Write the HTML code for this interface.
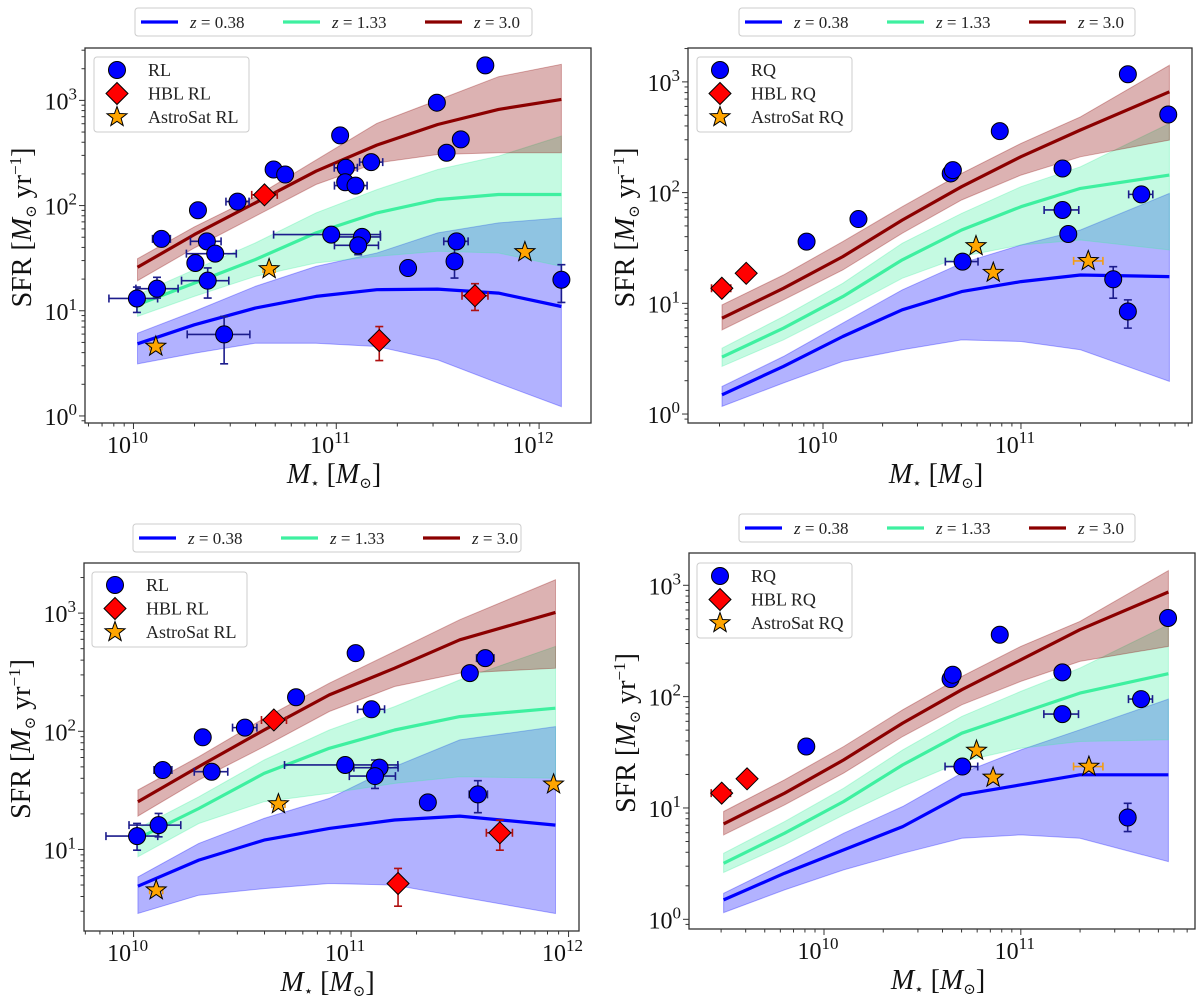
<!DOCTYPE html>
<html><head><meta charset="utf-8">
<style>
body{margin:0;background:#fff;}
svg{display:block;font-family:"Liberation Serif","DejaVu Serif",serif;}
</style></head>
<body>
<svg id="fig" width="1200" height="1003" viewBox="0 0 1200 1003" xmlns="http://www.w3.org/2000/svg"></svg>
<script>
// ---------- Data (log10 values) ----------
const p1ModelMass = [10.02,10.3,10.6,10.9,11.2,11.5,11.8,12.11];
const p1Z3Line = [1.413,1.724,2.025,2.327,2.575,2.771,2.914,3.009];
const p1Z3Up   = [1.495,1.797,2.083,2.432,2.781,3.003,3.225,3.343];
const p1Z3Lo   = [1.286,1.597,1.898,2.2,2.406,2.486,2.502,2.502];
const p1Z13Line= [1.057,1.263,1.486,1.740,1.930,2.057,2.105,2.105];
const p1Z13Up  = [1.152,1.390,1.644,1.930,2.152,2.343,2.470,2.660];
const p1Z13Lo  = [0.946,1.137,1.327,1.454,1.517,1.565,1.549,1.422];
const p1Z04Line= [0.686,0.867,1.025,1.137,1.2,1.206,1.168,1.041];
const p1Z04Up  = [0.787,0.994,1.232,1.422,1.549,1.740,1.835,1.883];
const p1Z04Lo  = [0.495,0.597,0.692,0.692,0.660,0.533,0.311,0.089];
const p1CircMass = [11.735,11.496,11.019,11.614,11.544,11.172,11.047,10.691,10.748,11.044,11.095,10.513,10.318,10.138,10.975,11.127,11.108,10.362,10.403,11.593,11.583,11.354,10.305,10.366,10.116,10.017,10.447,12.110];
const p1CircSfr  = [3.333,2.978,2.667,2.629,2.502,2.413,2.359,2.343,2.295,2.222,2.190,2.038,1.956,1.683,1.724,1.702,1.622,1.660,1.543,1.660,1.470,1.406,1.454,1.286,1.210,1.117,0.775,1.295];
const p1CircErr = [[0,0,0,0],[0,0,0,0],[0,0,0,0],[0,0,0,0],[0,0,0,0],[0.057,0.057,0,0],[0.057,0.057,0,0],[0,0,0,0],[0,0,0,0],[0,0,0,0],[0.104,0.057,0,0],[0.057,0.057,0,0],[0,0,0,0],[0.044,0.044,0,0],[0.284,0.242,0,0],[0.136,0.091,0,0],[0.117,0.1,0.089,0.086],[0.081,0.07,0,0],[0.142,0.104,0,0],[0.063,0.057,0.05,0.05],[0,0,0.159,0.159],[0,0,0,0],[0,0,0,0],[0.129,0.104,0.165,0.121],[0.104,0.104,0.089,0.108],[0.138,0.102,0.133,0.108],[0.182,0.127,0.279,0.171],[0,0,0.216,0.143]];
const p1DiaMass = [10.646,11.212,11.684];
const p1DiaSfr  = [2.102,0.717,1.143];
const p1DiaErr  = [[0.063,0.063,0,0],[0,0,0.19,0.133],[0.064,0.064,0.14,0.114]];
const p1StarMass = [10.110,10.669,11.930];
const p1StarSfr  = [0.660,1.397,1.559];
const p1StarErr  = [[0.03,0.03,0,0],[0.03,0.03,0,0],[0,0,0,0]];

const p2ModelMass = [9.49,9.8,10.1,10.4,10.7,11.0,11.3,11.75];
const p2Z3Line = [0.866,1.136,1.422,1.752,2.053,2.324,2.565,2.910];
const p2Z3Up   = [0.986,1.256,1.557,1.873,2.173,2.444,2.684,3.150];
const p2Z3Lo   = [0.760,1.031,1.301,1.632,1.933,2.158,2.323,2.474];
const p2Z13Line= [0.514,0.775,1.061,1.392,1.662,1.873,2.038,2.158];
const p2Z13Up  = [0.595,0.881,1.181,1.542,1.812,2.053,2.233,2.624];
const p2Z13Lo  = [0.430,0.670,0.941,1.226,1.422,1.527,1.572,1.482];
const p2Z04Line= [0.174,0.430,0.700,0.941,1.106,1.196,1.256,1.241];
const p2Z04Up  = [0.249,0.520,0.821,1.121,1.362,1.527,1.662,1.993];
const p2Z04Lo  = [0.069,0.280,0.475,0.580,0.670,0.655,0.580,0.295];
const p2CircMass = [11.540,11.744,10.893,10.645,10.656,10.179,9.917,11.210,11.210,11.239,11.608,10.705,11.466,11.540];
const p2CircSfr  = [3.069,2.705,2.555,2.173,2.203,1.761,1.557,2.218,1.843,1.626,1.984,1.377,1.217,0.926];
const p2CircErr  = [[0,0,0,0],[0,0,0,0],[0,0,0,0],[0,0,0,0],[0,0,0,0],[0,0,0,0],[0,0,0,0],[0,0,0,0],[0.093,0.082,0,0],[0,0,0,0],[0.064,0.058,0,0],[0.087,0.078,0,0],[0,0,0.171,0.114],[0,0,0.15,0.105]];
const p2DiaMass = [9.489,9.612];
const p2DiaSfr  = [1.136,1.271];
const p2DiaErr  = [[0.052,0.045,0,0],[0,0,0,0]];
const p2StarMass = [10.773,10.860,11.340];
const p2StarSfr  = [1.518,1.277,1.383];
const p2StarErr  = [[0,0,0,0],[0,0,0,0],[0.074,0.074,0,0]];

const p3ModelMass = [10.02,10.3,10.6,10.9,11.2,11.5,11.94];
const p3Z3Line = [1.404,1.701,2.011,2.308,2.534,2.774,3.006];
const p3Z3Up   = [1.503,1.785,2.110,2.407,2.675,2.944,3.282];
const p3Z3Lo   = [1.282,1.588,1.870,2.167,2.379,2.492,2.534];
const p3Z13Line= [1.093,1.347,1.644,1.856,2.011,2.124,2.195];
const p3Z13Up  = [1.178,1.446,1.757,2.011,2.209,2.435,2.718];
const p3Z13Lo  = [0.938,1.220,1.404,1.475,1.559,1.616,1.602];
const p3Z04Line= [0.689,0.910,1.079,1.178,1.249,1.282,1.206];
const p3Z04Up  = [0.768,1.051,1.263,1.432,1.701,1.927,2.040];
const p3Z04Lo  = [0.458,0.613,0.669,0.712,0.698,0.599,0.458];
const p3CircMass = [11.021,11.617,11.546,10.747,11.094,10.512,10.318,10.134,10.359,10.973,11.131,11.110,11.353,11.583,10.115,10.016];
const p3CircSfr  = [2.661,2.619,2.492,2.288,2.186,2.031,1.949,1.672,1.658,1.715,1.692,1.621,1.398,1.466,1.206,1.113];
const p3CircErr  = [[0,0,0,0],[0.04,0.04,0,0],[0,0,0,0],[0,0,0,0],[0.064,0.06,0.03,0.03],[0.057,0.055,0,0],[0,0,0,0],[0.04,0.042,0,0],[0.08,0.074,0,0],[0.279,0.242,0,0],[0.118,0.085,0.03,0.03],[0.118,0.094,0.105,0.136],[0,0,0.02,0.02],[0.04,0.044,0.155,0.116],[0.136,0.102,0.099,0.099],[0.143,0.095,0.119,0.107]];
const p3DiaMass = [10.645,11.216,11.684];
const p3DiaSfr  = [2.096,0.712,1.141];
const p3DiaErr  = [[0.057,0.058,0,0],[0,0,0.192,0.127],[0.062,0.058,0.147,0.107]];
const p3StarMass = [10.104,10.666,11.931];
const p3StarSfr  = [0.655,1.384,1.551];
const p3StarErr  = [[0.03,0.03,0,0],[0.03,0.03,0,0],[0,0,0,0]];

const p4ModelMass = [9.49,9.8,10.1,10.4,10.7,11.0,11.3,11.75];
const p4Z3Line = [0.857,1.133,1.432,1.762,2.062,2.331,2.601,2.940];
const p4Z3Up   = [0.968,1.253,1.552,1.882,2.182,2.451,2.676,3.132];
const p4Z3Lo   = [0.758,1.028,1.313,1.642,1.927,2.137,2.316,2.451];
const p4Z13Line= [0.503,0.773,1.058,1.387,1.672,1.852,2.032,2.206];
const p4Z13Up  = [0.593,0.878,1.178,1.522,1.822,2.047,2.256,2.646];
const p4Z13Lo  = [0.420,0.668,0.938,1.193,1.417,1.537,1.597,1.612];
const p4Z04Line= [0.174,0.414,0.623,0.833,1.118,1.208,1.298,1.298];
const p4Z04Up  = [0.234,0.503,0.773,1.013,1.313,1.522,1.702,1.978];
const p4Z04Lo  = [0.060,0.264,0.444,0.593,0.728,0.758,0.728,0.518];
const p4CircMass = [11.748,10.893,10.643,10.654,11.211,9.910,11.211,11.611,10.703,11.543];
const p4CircSfr  = [2.706,2.556,2.158,2.197,2.218,1.552,1.843,1.978,1.372,0.914];
const p4CircErr  = [[0,0,0,0],[0,0,0,0],[0,0,0,0],[0,0,0,0],[0,0,0,0],[0,0,0,0],[0.094,0.082,0,0],[0.064,0.058,0,0],[0.088,0.078,0,0],[0,0,0.126,0.128]];
const p4DiaMass = [9.480,9.609];
const p4DiaSfr  = [1.133,1.262];
const p4DiaErr  = [[0.053,0.045,0,0],[0,0,0,0]];
const p4StarMass = [10.775,10.859,11.346];
const p4StarSfr  = [1.516,1.274,1.372];
const p4StarErr  = [[0,0,0,0],[0,0,0,0],[0.078,0.071,0,0]];

const zLabels = ["0.38","1.33","3.0"];
const xTickExps = [10,11,12];
const yTickExps = [0,1,2,3];

// ---------- Rendering ----------
const NS="http://www.w3.org/2000/svg";
const svg=document.getElementById('fig');
function mk(tag,attrs,parent){const e=document.createElementNS(NS,tag);for(const k in attrs)e.setAttribute(k,attrs[k]);(parent||svg).appendChild(e);return e;}

const COL={blue:'#0000ff',green:'#3ef0a0',red:'#8b0000'};

function panel(cfg){
  const g=mk('g',{});
  
  
  const [L,T,R,B]=cfg.box;
  const sx=v=>L+(v-cfg.xr[0])/(cfg.xr[1]-cfg.xr[0])*(R-L);
  const sy=v=>B-(v-cfg.yr[0])/(cfg.yr[1]-cfg.yr[0])*(B-T);
  const clipId='clip'+cfg.name;
  const defs=mk('defs',{},g);
  const cp=mk('clipPath',{id:clipId},defs);
  mk('rect',{x:L,y:T,width:R-L,height:B-T},cp);
  const plot=mk('g',{'clip-path':'url(#'+clipId+')'},g);
  function band(up,lo,fill,op,nm){
    let d='';
    cfg.mass.forEach((m,i)=>{d+=(i?'L':'M')+sx(m).toFixed(1)+','+sy(up[i]).toFixed(1);});
    for(let i=cfg.mass.length-1;i>=0;i--)d+='L'+sx(cfg.mass[i]).toFixed(1)+','+sy(lo[i]).toFixed(1);
    const p=mk('path',{d:d+'Z',fill:fill,'fill-opacity':op,stroke:fill,'stroke-opacity':op,'stroke-width':1},plot);
    
    
  }
  function line(vals,col,nm){
    const pts=cfg.mass.map((m,i)=>sx(m).toFixed(1)+','+sy(vals[i]).toFixed(1)).join(' ');
    const p=mk('polyline',{points:pts,fill:'none',stroke:col,'stroke-width':3.2,'stroke-linejoin':'round'},plot);
    
    
  }
  band(cfg.z04[1],cfg.z04[2],'#0000ff',0.3,'band-z038');
  band(cfg.z13[1],cfg.z13[2],'#3ef0a0',0.3,'band-z133');
  band(cfg.z3[1],cfg.z3[2],'#8b0000',0.3,'band-z30');
  line(cfg.z04[0],COL.blue,'line-z038');
  line(cfg.z13[0],COL.green,'line-z133');
  line(cfg.z3[0],COL.red,'line-z30');
  function errs(mass,sfr,err,col){
    mass.forEach((m,i)=>{
      const e=err[i],x=sx(m),y=sy(sfr[i]);
      if(e[0]||e[1]){
        const x1=sx(m-e[0]),x2=sx(m+e[1]);
        const eb=mk('path',{d:`M${x1},${y}L${x2},${y}M${x1},${y-4}L${x1},${y+4}M${x2},${y-4}L${x2},${y+4}`,stroke:col,'stroke-width':1.6,fill:'none'},plot);
        
        
      }
      if(e[2]||e[3]){
        const y1=sy(sfr[i]-e[2]),y2=sy(sfr[i]+e[3]);
        const eb=mk('path',{d:`M${x},${y1}L${x},${y2}M${x-4},${y1}L${x+4},${y1}M${x-4},${y2}L${x+4},${y2}`,stroke:col,'stroke-width':1.6,fill:'none'},plot);
        
        
      }
    });
  }
  errs(cfg.circ[0],cfg.circ[1],cfg.circ[2],'#1c1c8c');
  errs(cfg.dia[0],cfg.dia[1],cfg.dia[2],'#b01010');
  errs(cfg.star[0],cfg.star[1],cfg.star[2],'#f39c12');
  function circle(x,y,parent){return mk('circle',{cx:x,cy:y,r:8.5,fill:'#0000ff',stroke:'#000','stroke-width':1},parent);}
  function diamond(x,y,parent){const r=11;return mk('polygon',{points:`${x},${y-r} ${x+r},${y} ${x},${y+r} ${x-r},${y}`,fill:'#ff0000',stroke:'#000','stroke-width':1},parent);}
  function star(x,y,parent){let p=[];for(let k=0;k<10;k++){const rr=k%2?4.3:10.5;const a=-Math.PI/2+k*Math.PI/5;p.push((x+rr*Math.cos(a)).toFixed(1)+','+(y+rr*Math.sin(a)).toFixed(1));}return mk('polygon',{points:p.join(' '),fill:'#ffa500',stroke:'#000','stroke-width':1},parent);}
  cfg.circ[0].forEach((m,i)=>{const c=circle(sx(m),sy(cfg.circ[1][i]),plot);
    
    });
  cfg.dia[0].forEach((m,i)=>{const c=diamond(sx(m),sy(cfg.dia[1][i]),plot);
    
    });
  cfg.star[0].forEach((m,i)=>{const c=star(sx(m),sy(cfg.star[1][i]),plot);
    
    });
  const fr=mk('rect',{x:L,y:T,width:R-L,height:B-T,fill:'none',stroke:'#333','stroke-width':1.3},g);
  
  
  for(let d=Math.floor(cfg.xr[0]);d<=Math.ceil(cfg.xr[1]);d++){
    for(let k=1;k<10;k++){
      const v=d+Math.log10(k);
      if(v<cfg.xr[0]||v>cfg.xr[1])continue;
      const x=sx(v);
      mk('line',{x1:x,y1:B,x2:x,y2:B+(k==1?6:3.5),stroke:'#333','stroke-width':1},g);
    }
  }
  xTickExps.forEach(e=>{
    if(e<cfg.xr[0]||e>cfg.xr[1])return;
    const t=mk('text',{x:sx(e)-6,y:B+30,'font-size':24,'text-anchor':'middle',fill:'#111'},g);
    
    
    t.innerHTML='10<tspan dy="-10" font-size="17">'+e+'</tspan>';
  });
  for(let d=Math.floor(cfg.yr[0]);d<=Math.ceil(cfg.yr[1]);d++){
    for(let k=1;k<10;k++){
      const v=d+Math.log10(k);
      if(v<cfg.yr[0]||v>cfg.yr[1])continue;
      const y=sy(v);
      mk('line',{x1:L,y1:y,x2:L-(k==1?6:3.5),y2:y,stroke:'#333','stroke-width':1},g);
    }
  }
  yTickExps.forEach(e=>{
    if(e<cfg.yr[0]||e>cfg.yr[1])return;
    const t=mk('text',{x:L-8,y:sy(e)+9,'font-size':24,'text-anchor':'end',fill:'#111'},g);
    
    
    t.innerHTML='10<tspan dy="-10" font-size="17">'+e+'</tspan>';
  });
  const xt=mk('text',{x:(L+R)/2-4,y:B+60,'font-size':28,'text-anchor':'middle',fill:'#111'},g);
  
  
  xt.innerHTML='<tspan font-style="italic">M</tspan><tspan font-size="15" dy="5">⋆</tspan><tspan dy="-5"> [</tspan><tspan font-style="italic">M</tspan><tspan font-size="15" dy="5">⊙</tspan><tspan dy="-5">]</tspan>';
  const yt=mk('text',{x:0,y:0,'font-size':28,'text-anchor':'middle',fill:'#111',transform:`translate(${L-54},${(T+B)/2-8}) rotate(-90)`},g);
  
  
  yt.innerHTML='SFR [<tspan font-style="italic">M</tspan><tspan font-size="15" dy="5">⊙</tspan><tspan dy="-5"> yr</tspan><tspan font-size="17" dy="-10">−1</tspan><tspan dy="10">]</tspan>';
  const [lx,ly]=cfg.leg;
  const lg=mk('g',{},g);
  
  
  mk('rect',{x:lx,y:ly,width:155,height:75,rx:3,fill:'#fff','fill-opacity':0.85,stroke:'#ccc','stroke-width':1},lg);
  const names=[cfg.tag,'HBL '+cfg.tag,'AstroSat '+cfg.tag];
  const fns=[circle,diamond,star];
  names.forEach((n,i)=>{
    const yy=ly+13+i*23.5;
    const mEl=fns[i](lx+23,yy,lg);
    
    
    const t=mk('text',{x:lx+54,y:yy+6,'font-size':18,fill:'#222'},lg);
    
    
    t.textContent=n;
  });
  const [tx,ty,tx2]=cfg.top;
  const tg=mk('g',{},g);
  
  
  mk('rect',{x:tx,y:ty,width:tx2-tx,height:28,rx:3,fill:'#fff',stroke:'#ccc','stroke-width':1},tg);
  const cols=[COL.blue,COL.green,COL.red];
  zLabels.forEach((z,i)=>{
    const ox=tx+6+i*142;
    mk('line',{x1:ox,y1:ty+14,x2:ox+37,y2:ty+14,stroke:cols[i],'stroke-width':3.2},tg);
    const t=mk('text',{x:ox+49,y:ty+20,'font-size':17,fill:'#222'},tg);
    
    
    t.innerHTML='<tspan font-style="italic">z</tspan> = '+z;
  });
}

panel({name:'panel-rl-top',tag:'RL',box:[85,48,591,423],xr:[9.761,12.256],yr:[-0.067,3.498],leg:[94,57],top:[135,8,532],
  mass:p1ModelMass,z3:[p1Z3Line,p1Z3Up,p1Z3Lo],z13:[p1Z13Line,p1Z13Up,p1Z13Lo],z04:[p1Z04Line,p1Z04Up,p1Z04Lo],
  circ:[p1CircMass,p1CircSfr,p1CircErr],dia:[p1DiaMass,p1DiaSfr,p1DiaErr],star:[p1StarMass,p1StarSfr,p1StarErr]});
panel({name:'panel-rq-top',tag:'RQ',box:[688,48,1192,423],xr:[9.318,11.864],yr:[-0.081,3.306],leg:[697,57],top:[739,8,1135],
  mass:p2ModelMass,z3:[p2Z3Line,p2Z3Up,p2Z3Lo],z13:[p2Z13Line,p2Z13Up,p2Z13Lo],z04:[p2Z04Line,p2Z04Up,p2Z04Lo],
  circ:[p2CircMass,p2CircSfr,p2CircErr],dia:[p2DiaMass,p2DiaSfr,p2DiaErr],star:[p2StarMass,p2StarSfr,p2StarErr]});
panel({name:'panel-rl-bottom',tag:'RL',box:[84,563,579,931],xr:[9.772,12.048],yr:[0.31,3.424],leg:[92,572],top:[133,524,521],
  mass:p3ModelMass,z3:[p3Z3Line,p3Z3Up,p3Z3Lo],z13:[p3Z13Line,p3Z13Up,p3Z13Lo],z04:[p3Z04Line,p3Z04Up,p3Z04Lo],
  circ:[p3CircMass,p3CircSfr,p3CircErr],dia:[p3DiaMass,p3DiaSfr,p3DiaErr],star:[p3StarMass,p3StarSfr,p3StarErr]});
panel({name:'panel-rq-bottom',tag:'RQ',box:[689,553,1195,929],xr:[9.314,11.885],yr:[-0.087,3.290],leg:[697,563],top:[739,514,1135],
  mass:p4ModelMass,z3:[p4Z3Line,p4Z3Up,p4Z3Lo],z13:[p4Z13Line,p4Z13Up,p4Z13Lo],z04:[p4Z04Line,p4Z04Up,p4Z04Lo],
  circ:[p4CircMass,p4CircSfr,p4CircErr],dia:[p4DiaMass,p4DiaSfr,p4DiaErr],star:[p4StarMass,p4StarSfr,p4StarErr]});
</script>
</body></html>
